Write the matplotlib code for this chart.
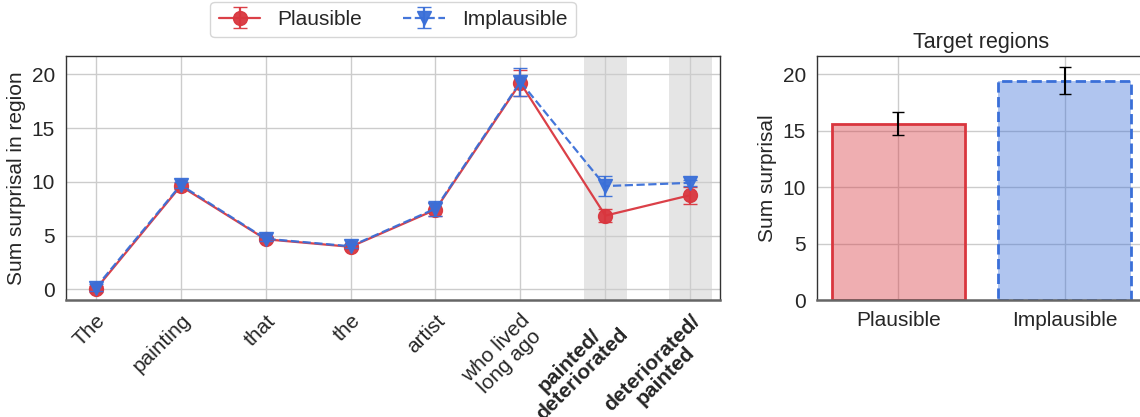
import numpy as np
import matplotlib
matplotlib.use("Agg")
import matplotlib.pyplot as plt
import seaborn as sns

# Datos por región
regions = ["The", "painting", "that", "the", "artist", "who lived\nlong ago",
           "painted/\ndeteriorated", "deteriorated/\npainted"]
plausible = [0.0, 9.6, 4.65, 3.95, 7.4, 19.2, 6.85, 8.75]
plausible_err = [0.3, 0.3, 0.2, 0.2, 0.6, 1.2, 0.6, 0.8]
implausible = [0.15, 9.7, 4.7, 4.0, 7.5, 19.3, 9.6, 9.9]
implausible_err = [0.3, 0.3, 0.2, 0.2, 0.7, 1.3, 0.9, 0.3]
target_idx = [6, 7]

# Barras de regiones objetivo
conditions = ["Plausible", "Implausible"]
target_sum = [15.6, 19.4]
target_err = [1.0, 1.2]

red = "#d9363e"
blue = "#3a6fd8"
fs = 15

sns.set_theme(style="whitegrid")
plt.rcParams['font.family'] = ['Liberation Sans', 'DejaVu Sans']

fig = plt.figure(figsize=(11.4, 4.17), dpi=100)
ax = fig.add_axes([66/1140, 1 - 300/417, (720-66)/1140, (300-56)/417])
ax2 = fig.add_axes([817/1140, 1 - 300/417, (1146-817)/1140, (300-56)/417])

x = np.arange(len(regions))
for i in target_idx:
    ax.axvspan(i - 0.25, i + 0.25, color="#e5e5e5", zorder=0, lw=0)

ax.errorbar(x, plausible, yerr=plausible_err, color=red, marker="o", ms=10,
            lw=1.6, capsize=5, label="Plausible", alpha=0.95, zorder=3)
ax.errorbar(x, implausible, yerr=implausible_err, color=blue, marker="v", ms=10,
            lw=1.6, ls="--", capsize=5, label="Implausible", alpha=0.95, zorder=4)

ax.set_xlim(-0.35, 7.35)
ax.set_ylim(-1.0, 21.7)
ax.set_yticks([0, 5, 10, 15, 20])
ax.set_xticks(x)
ax.set_xticklabels(regions, rotation=45, ha="right", rotation_mode="anchor",
                   fontsize=fs, multialignment="center", linespacing=1.0)
for i in target_idx:
    ax.get_xticklabels()[i].set_fontweight("bold")
ax.tick_params(axis="y", labelsize=fs)
ax.set_ylabel("Sum surprisal in region", fontsize=fs)
ax.legend(loc="center", bbox_to_anchor=(0.5, 1.15), ncol=2, fontsize=fs,
          frameon=True, columnspacing=2.0)

ax2.bar(0, target_sum[0], width=0.8, color=red, alpha=0.4, lw=0)
ax2.bar(0, target_sum[0], width=0.8, fill=False, edgecolor=red, lw=2)
ax2.bar(1, target_sum[1], width=0.8, color=blue, alpha=0.4, lw=0)
ax2.bar(1, target_sum[1], width=0.8, fill=False, edgecolor=blue, lw=2, ls="--")
ax2.errorbar([0, 1], target_sum, yerr=target_err, fmt="none", ecolor="black",
             capsize=4, lw=1.5)
ax2.set_xlim(-0.49, 1.49)
ax2.set_ylim(0, 21.6)
ax2.set_yticks([0, 5, 10, 15, 20])
ax2.set_xticks([0, 1])
ax2.set_xticklabels(conditions, fontsize=fs)
ax2.tick_params(axis="y", labelsize=fs)
ax2.set_ylabel("Sum surprisal", fontsize=fs)
ax2.set_title("Target regions", fontsize=15.5)

for a in (ax, ax2):
    for s in a.spines.values():
        s.set_color("#333333")
        s.set_linewidth(1.0)
    a.spines["bottom"].set_color("#666666")
    a.spines["bottom"].set_linewidth(1.8)
    a.tick_params(axis="both", pad=2)

fig.savefig("out.png", dpi=100)
